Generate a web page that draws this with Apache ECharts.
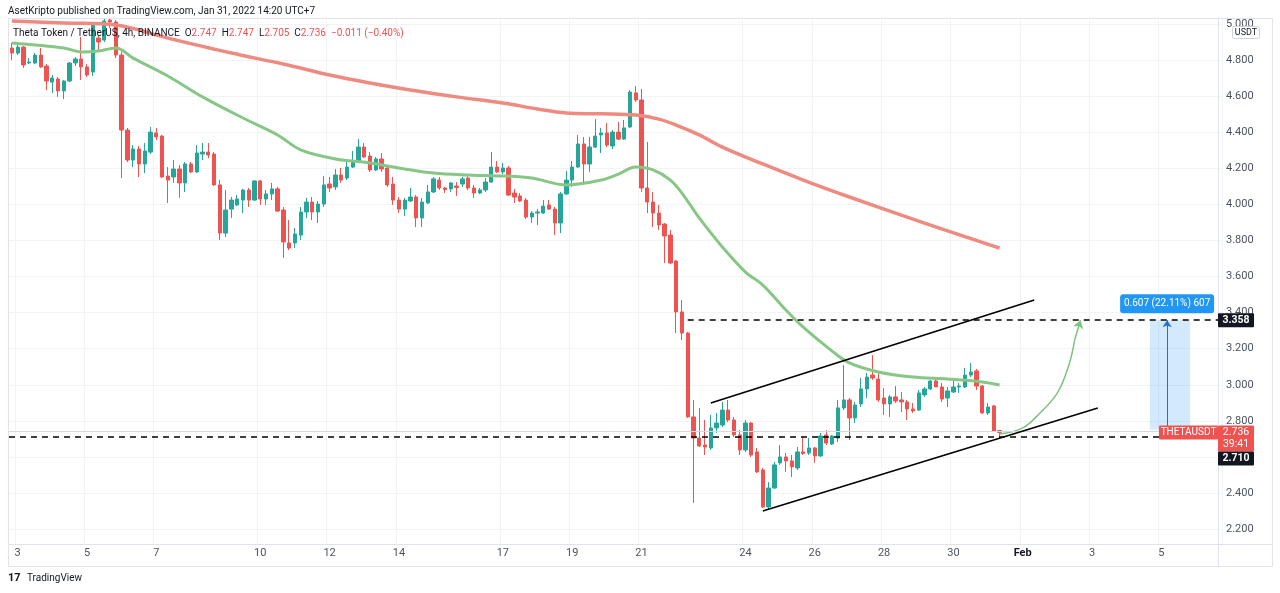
<!DOCTYPE html>
<html><head><meta charset="utf-8">
<script src="https://cdn.jsdelivr.net/npm/echarts/dist/echarts.min.js"></script>
<style>html,body{margin:0;padding:0;background:#fff}#c{width:1280px;height:593px}</style>
</head><body><div id="c"></div>
<script>
// ---- data ----
const open = [4.867,4.839,4.872,4.784,4.784,4.828,4.767,4.678,4.695,4.629,
4.684,4.784,4.806,4.762,4.734,4.922,4.911,5.022,5.011,4.828,
4.412,4.246,4.307,4.224,4.290,4.396,4.379,4.157,4.152,4.196,
4.119,4.224,4.180,4.279,4.290,4.279,4.108,3.841,3.974,3.997,
4.024,4.080,4.024,4.130,4.030,4.058,4.086,3.969,3.786,3.786,
3.830,3.958,4.013,3.958,4.002,4.113,4.097,4.163,4.146,4.207,
4.241,4.318,4.268,4.191,4.252,4.202,4.113,4.024,3.974,4.019,
4.041,3.925,4.008,4.069,4.135,4.091,4.086,4.102,4.113,4.146,
4.091,4.063,4.080,4.124,4.207,4.180,4.202,4.063,4.047,4.024,
3.930,3.952,3.952,3.997,3.974,3.897,4.058,4.135,4.207,4.335,
4.224,4.318,4.385,4.396,4.324,4.401,4.362,4.429,4.618,4.579,
4.091,4.013,3.952,3.891,3.830,3.686,3.404,3.287,2.822,2.705,
2.666,2.650,2.761,2.777,2.860,2.805,2.722,2.639,2.788,2.628,
2.528,2.323,2.428,2.567,2.600,2.578,2.539,2.628,2.622,2.650,
2.606,2.722,2.672,2.705,2.872,2.916,2.816,2.894,2.977,3.054,
3.032,2.927,2.894,2.933,2.916,2.905,2.866,2.860,2.944,2.977,
3.021,2.988,2.927,2.960,2.988,2.988,3.054,3.077,2.993,2.844,
2.883,2.747];
const close = [4.839,4.872,4.773,4.789,4.828,4.762,4.684,4.701,4.629,4.684,
4.784,4.806,4.762,4.717,4.994,4.900,5.017,5.011,4.828,4.412,
4.246,4.307,4.224,4.296,4.401,4.374,4.152,4.135,4.196,4.119,
4.224,4.180,4.285,4.290,4.274,4.108,3.841,3.969,4.024,4.030,
4.080,4.024,4.130,4.030,4.058,4.086,3.963,3.792,3.758,3.836,
3.958,4.013,3.958,4.002,4.108,4.091,4.163,4.135,4.207,4.241,
4.318,4.263,4.191,4.252,4.196,4.108,4.024,3.974,4.024,4.041,
3.925,4.013,4.069,4.141,4.091,4.083,4.119,4.094,4.141,4.091,
4.063,4.080,4.124,4.207,4.180,4.202,4.052,4.041,4.019,3.930,
3.952,3.958,3.991,3.974,3.897,4.058,4.135,4.207,4.335,4.224,
4.318,4.379,4.396,4.329,4.401,4.362,4.424,4.623,4.579,4.091,
4.013,3.952,3.886,3.825,3.675,3.404,3.287,2.822,2.705,2.661,
2.655,2.761,2.788,2.860,2.805,2.722,2.639,2.788,2.611,2.517,
2.323,2.428,2.556,2.600,2.578,2.545,2.628,2.619,2.650,2.606,
2.716,2.677,2.716,2.872,2.916,2.816,2.888,2.977,3.043,3.038,
2.916,2.894,2.933,2.910,2.905,2.866,2.855,2.955,2.977,3.021,
2.988,2.921,2.966,2.988,2.993,3.054,3.071,2.993,2.844,2.877,
2.744,2.736];
const low = [4.800,4.828,4.756,4.778,4.778,4.756,4.634,4.618,4.596,4.584,
4.678,4.767,4.690,4.706,4.712,4.845,4.900,4.978,4.811,4.146,
4.235,4.207,4.152,4.174,4.279,4.357,4.146,4.008,4.119,4.036,
4.069,4.174,4.174,4.246,4.257,4.102,3.803,3.819,3.925,3.991,
3.952,3.986,4.019,3.997,3.997,4.024,3.958,3.703,3.747,3.758,
3.803,3.925,3.913,3.897,3.986,4.069,4.080,4.119,4.135,4.202,
4.235,4.257,4.180,4.185,4.180,4.097,3.997,3.952,3.936,4.013,
3.875,3.875,4.002,4.063,4.080,4.063,4.069,4.047,4.097,4.080,
4.036,4.058,4.069,4.119,4.174,4.168,4.047,4.008,4.013,3.919,
3.897,3.886,3.947,3.969,3.830,3.841,4.052,4.097,4.202,4.124,
4.180,4.313,4.285,4.318,4.307,4.357,4.357,4.424,4.568,4.069,
3.952,3.875,3.858,3.675,3.670,3.287,3.248,2.816,2.345,2.655,
2.611,2.639,2.733,2.766,2.794,2.711,2.611,2.628,2.600,2.511,
2.317,2.306,2.422,2.556,2.517,2.489,2.528,2.611,2.611,2.567,
2.600,2.666,2.666,2.683,2.860,2.694,2.788,2.877,2.927,3.027,
2.905,2.833,2.822,2.899,2.849,2.805,2.844,2.855,2.933,2.971,
2.988,2.905,2.877,2.955,2.955,2.982,3.043,2.971,2.838,2.833,
2.738,2.705];
const high = [4.895,4.889,4.878,4.811,4.839,4.867,4.778,4.717,4.706,4.690,
4.789,4.817,4.928,4.778,5.011,4.939,5.033,5.033,5.022,4.845,
4.424,4.329,4.324,4.340,4.429,4.424,4.385,4.207,4.246,4.218,
4.235,4.235,4.329,4.340,4.340,4.290,4.135,4.080,4.041,4.052,
4.086,4.091,4.135,4.135,4.080,4.119,4.097,3.986,3.913,3.869,
3.986,4.036,4.041,4.019,4.157,4.152,4.196,4.202,4.246,4.296,
4.362,4.340,4.290,4.263,4.285,4.218,4.152,4.041,4.036,4.091,
4.052,4.036,4.108,4.152,4.152,4.097,4.124,4.124,4.152,4.157,
4.108,4.091,4.146,4.290,4.241,4.230,4.213,4.086,4.063,4.036,
3.963,3.974,4.024,4.024,3.986,4.069,4.185,4.241,4.385,4.374,
4.374,4.473,4.424,4.451,4.412,4.457,4.468,4.634,4.656,4.640,
4.346,4.069,3.997,3.897,3.858,3.692,3.470,3.293,2.916,2.872,
2.805,2.833,2.844,2.905,2.916,2.822,2.749,2.805,2.794,2.650,
2.539,2.461,2.572,2.666,2.622,2.611,2.655,2.705,2.705,2.655,
2.733,2.749,2.722,2.916,3.110,2.927,2.905,3.038,3.066,3.165,
3.071,2.982,2.944,2.993,2.960,2.916,2.899,2.971,2.988,3.027,
3.032,3.010,2.988,3.038,3.010,3.093,3.121,3.088,2.999,2.899,
2.888,2.747];

// moving averages, read at selected 4h slots
const maFastSlots  = [0,9,12,15,18,21,27,33,40,46,50,56,62,67,73,79,85,90,96,102,105,108,111,114,116,119,123,127,130,134,137,142,145,150,156,162,168,171];
const maFastValues = [4.895,4.867,4.845,4.850,4.867,4.811,4.712,4.596,4.479,4.385,4.302,4.252,4.230,4.202,4.174,4.163,4.157,4.146,4.108,4.135,4.168,4.207,4.191,4.135,4.063,3.925,3.764,3.625,3.553,3.415,3.320,3.187,3.121,3.071,3.043,3.032,3.016,2.999];
const maSlowSlots  = [0,9,18,27,38,47,55,62,69,77,85,91,96,102,108,112,115,119,123,130,137,145,154,162,171];
const maSlowValues = [5.017,5.006,4.994,4.922,4.839,4.778,4.717,4.673,4.634,4.596,4.562,4.529,4.507,4.502,4.495,4.473,4.440,4.385,4.318,4.224,4.135,4.041,3.941,3.853,3.758];

// drawings
const arrowSlots  = [171,175,178,181,183,184];
const arrowValues = [2.727,2.761,2.844,2.955,3.110,3.250];
const targetPrice = 3.358, supportPrice = 2.710, lastPrice = 2.736, measureBase = 2.751;
const upperChannel = [[121,2.899],[177,3.470]];
const lowerChannel = [[130,2.300],[188,2.872]];

// axis ticks
const dayTickOffsets = [0,2,4,7,9,11,14,16,18,21,23,25,27,29,31,33];
const dayTickLabels  = ["3","5","7","10","12","14","17","19","21","24","26","28","30","Feb","3","5"];
const priceMin = 2.1175, priceMax = 5.0333;

// ---- chart ----
const N_SLOTS = 210;
const slots = Array.from({length:N_SLOTS},(_,i)=>String(i));
const dayTickSlots = dayTickOffsets.map(d=>1+6*d);
const tickSet = new Set(dayTickSlots);
const candles = open.map((o,i)=>[o, close[i], low[i], high[i]]);
const pairs = (xs, ys) => xs.map((x,i)=>[x, ys[i]]);
const FONT = 'Roboto, "Open Sans", "DejaVu Sans", sans-serif';
const TXT = '#4c525e';

const chart = echarts.init(document.getElementById('c'), null, {renderer:'canvas'});
const black = {color:'#000', width:1.6, type:'solid'};
const dashed = {color:'#000', width:1.6, type:[6,5]};
chart.setOption({
  animation:false,
  textStyle:{fontFamily:FONT},
  grid:{left:9, right:58, top:18, bottom:49},
  xAxis:{type:'category', data:slots, boundaryGap:true,
    axisLine:{show:false}, axisTick:{show:false},
    axisLabel:{interval:(i)=>tickSet.has(i), margin:4, color:TXT, fontSize:11, fontFamily:FONT,
      formatter:(v)=>{const k=dayTickSlots.indexOf(Number(v)); if(k<0) return ''; const t=dayTickLabels[k]; return t==='Feb'?'{b|Feb}':t;},
      rich:{b:{fontWeight:'bold', color:'#131722', fontSize:11, fontFamily:FONT}}},
    splitLine:{show:true, interval:(i)=>tickSet.has(i), lineStyle:{color:'#f2f3f6'}}
  },
  yAxis:{type:'value', position:'right', min:priceMin, max:priceMax, splitNumber:15, minInterval:0.2, maxInterval:0.2,
    axisLine:{show:false}, axisTick:{show:false},
    axisLabel:{showMinLabel:false, showMaxLabel:false, margin:4, color:TXT, fontSize:11, fontFamily:FONT, formatter:v=>v.toFixed(3)},
    splitLine:{show:true, lineStyle:{color:'#f2f3f6'}}
  },
  series:[
    {type:'candlestick', data:candles, barWidth:'66%',
      itemStyle:{color:'#26a69a', color0:'#ef5350', borderColor:'#26a69a', borderColor0:'#ef5350', borderWidth:1},
      markArea:{silent:true, itemStyle:{color:'rgba(33,150,243,0.2)'},
        data:[[{coord:[197, measureBase]},{coord:[204, targetPrice]}]]},
      markLine:{silent:true, symbol:'none', label:{show:false}, animation:false,
        data:[
          {yAxis:lastPrice, lineStyle:{color:'#d6d8de', width:1, type:'solid'}},
          {yAxis:supportPrice, lineStyle:dashed},
          [{coord:[117, targetPrice], lineStyle:dashed},{coord:[209, targetPrice]}],
          [{coord:upperChannel[0], lineStyle:black},{coord:upperChannel[1]}],
          [{coord:lowerChannel[0], lineStyle:black},{coord:lowerChannel[1]}],
          [{coord:[200, measureBase], symbol:'none', lineStyle:{color:'#1e6fd9', width:1, type:'solid'}},
           {coord:[200, targetPrice], symbol:'arrow', symbolSize:7}]
        ]}
    },
    {type:'line', data:pairs(maFastSlots, maFastValues), smooth:0.35, symbol:'none', z:3,
      lineStyle:{color:'#86c786', width:3}},
    {type:'line', data:pairs(maSlowSlots, maSlowValues), smooth:0.35, symbol:'none', z:3,
      lineStyle:{color:'#ef8a80', width:3.5}},
    {type:'line', data:pairs(arrowSlots, arrowValues), smooth:0.4, symbol:'none', z:4,
      lineStyle:{color:'#7cc47f', width:1.5},
      markLine:{silent:true, label:{show:false}, animation:false,
        data:[[{coord:[184, arrowValues[arrowValues.length-1]], symbol:'none', lineStyle:{color:'#7cc47f', width:1.5, type:'solid'}},
               {coord:[185, targetPrice], symbol:'arrow', symbolSize:8}]]}}
  ]
});

const yPix = v => chart.convertToPixel({yAxisIndex:0}, v);
const xPix = s => chart.convertToPixel({xAxisIndex:0}, s);
const frame = '#e0e3eb';
const hl = (x1,y1,x2,y2)=>({type:'line', silent:true, z:50, shape:{x1,y1,x2,y2}, style:{stroke:frame, lineWidth:1}});
function tag(x, y, w, h, fill, lines, bold, size){
  const g = [{type:'rect', z:60, shape:{x, y, width:w, height:h, r:1}, style:{fill}}];
  lines.forEach((t,i)=>g.push({type:'text', z:61, x:x+w/2, y:y+7+i*12,
    style:{text:t, fill:'#fff', font:(bold?'bold ':'')+(size||11)+'px '+FONT, align:'center', verticalAlign:'middle'}}));
  return g;
}
const yT = yPix(targetPrice), yL = yPix(lastPrice);
const graphics = [
  hl(8.5,18.5,1272.5,18.5), hl(8.5,544.5,1272.5,544.5), hl(8.5,566.5,1272.5,566.5),
  hl(8.5,18.5,8.5,566.5), hl(1218.5,18.5,1218.5,566.5), hl(1272.5,18.5,1272.5,566.5),
  {type:'text', z:70, x:8, y:11, style:{text:'AsetKripto published on TradingView.com, Jan 31, 2022 14:20 UTC+7', fill:'#131722', font:'10px '+FONT, verticalAlign:'middle'}},
  {type:'text', z:70, x:13, y:33, style:{
    text:'{a|Theta Token / TetherUS, 4h, BINANCE}  {a|O}{r|2.747}  {a|H}{r|2.747}  {a|L}{r|2.705}  {a|C}{r|2.736}  {r|\u22120.011 (\u22120.40%)}',
    font:'10px '+FONT, verticalAlign:'middle',
    rich:{a:{fill:'#131722', color:'#131722', font:'10px '+FONT}, r:{fill:'#ef5350', color:'#ef5350', font:'10px '+FONT}}}},
  {type:'rect', z:70, shape:{x:1232.5, y:26.5, width:27, height:12, r:2}, style:{fill:'#fff', stroke:'#d1d4dc', lineWidth:1}},
  {type:'text', z:71, x:1246, y:33, style:{text:'USDT', fill:'#131722', font:'9px '+FONT, align:'center', verticalAlign:'middle'}},
  {type:'text', z:70, x:27, y:578, style:{text:'TradingView', fill:'#131722', font:'10px '+FONT, verticalAlign:'middle'}},
  {type:'text', z:70, x:8, y:578, style:{text:'17', fill:'#131722', font:'bold 11px '+FONT, verticalAlign:'middle'}}
];
graphics.push(...tag(1218, yT-7, 36, 14, '#131722', ['3.358'], true, 10.5));
const mx = xPix(200);
graphics.push({type:'rect', z:60, shape:{x:mx-47, y:yT-26, width:94, height:19, r:3}, style:{fill:'#2196f3'}});
graphics.push({type:'text', z:62, x:mx, y:yT-16.5, style:{text:'0.607 (22.11%) 607', fill:'#fff', font:'10px '+FONT, align:'center', verticalAlign:'middle'}});
graphics.push(...tag(1159, yL-7, 59, 14, '#ef5350', ['THETAUSDT'], false, 10));
graphics.push(...tag(1218, yL-7, 36, 26, '#ef5350', ['2.736','39:41'], false, 10.5));
graphics.push(...tag(1218, yL+19, 36, 14, '#131722', ['2.710'], true, 10.5));
chart.setOption({graphic:graphics});
</script></body></html>
